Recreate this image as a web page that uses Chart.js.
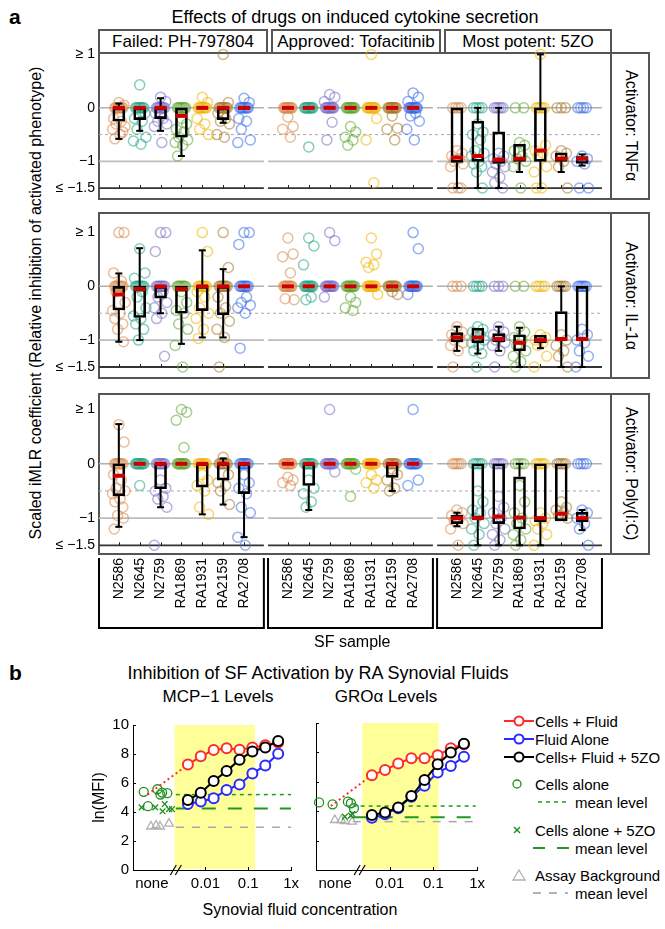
<!DOCTYPE html>
<html><head><meta charset="utf-8">
<script src="https://cdn.jsdelivr.net/npm/chart.js@4.4.1/dist/chart.umd.min.js"></script>
<style>
body{margin:0;background:#fff;font-family:"Liberation Sans",Arial,Helvetica,sans-serif;color:#000;}
#root{position:relative;width:665px;height:929px;overflow:hidden;background:#fff;}
.abs{position:absolute;}
.ctr{position:absolute;transform:translate(-50%,-50%);white-space:nowrap;}
.frame{position:absolute;box-sizing:border-box;border:2px solid #555;}
.hdr{position:absolute;box-sizing:border-box;border:2px solid #555;border-bottom:none;height:23px;top:29px;display:flex;align-items:center;justify-content:center;font-size:17px;line-height:20px;white-space:nowrap;}
.strip{position:absolute;left:612px;width:37px;display:flex;align-items:center;justify-content:center;writing-mode:vertical-rl;font-size:16px;white-space:nowrap;}
.sdiv{position:absolute;left:610px;width:2px;background:#555;}
canvas{position:absolute;display:block;}
.lg{position:absolute;font-size:15px;white-space:nowrap;transform:translateY(-50%);}
svg{position:absolute;overflow:visible;}
</style></head><body><div id="root">

<div class="abs" style="left:9px;top:5px;font-size:21px;font-weight:bold;">a</div>
<div class="ctr" style="left:355px;top:17px;font-size:18px;">Effects of drugs on induced cytokine secretion</div>
<div id="hdrs"></div>
<div id="frames"></div>
<div class="ctr" style="left:36px;top:303px;font-size:16px;transform:translate(-50%,-50%) rotate(-90deg);">Scaled iMLR coefficient (Relative inhibition of activated phenotype)</div>

<canvas id="p1" width="612" height="167" style="left:0;top:42px;"></canvas>
<canvas id="p2" width="612" height="185" style="left:0;top:203px;"></canvas>
<canvas id="p3" width="612" height="268" style="left:0;top:384px;"></canvas>

<div class="abs" style="left:9px;top:661px;font-size:21px;font-weight:bold;">b</div>
<div class="ctr" style="left:318px;top:673px;font-size:18px;">Inhibition of SF Activation by RA Synovial Fluids</div>
<div class="ctr" style="left:218px;top:697px;font-size:17px;">MCP−1 Levels</div>
<div class="ctr" style="left:386px;top:697px;font-size:17px;">GROα Levels</div>
<canvas id="bl" width="216" height="186" style="left:88px;top:712px;"></canvas>
<canvas id="br" width="184" height="186" style="left:306px;top:712px;"></canvas>
<div class="ctr" style="left:300px;top:910px;font-size:16px;">Synovial fluid concentration</div>

<svg style="left:503px;top:713px" width="32" height="16"><line x1="1" y1="8" x2="31" y2="8" stroke="#ff2a2a" stroke-width="2"/><circle cx="16" cy="8" r="4.5" fill="#fff" stroke="#ff2a2a" stroke-width="2"/></svg>
<div class="lg" style="left:535px;top:721px;">Cells + Fluid</div>
<svg style="left:503px;top:731px" width="32" height="16"><line x1="1" y1="8" x2="31" y2="8" stroke="#2a2aff" stroke-width="2"/><circle cx="16" cy="8" r="4.5" fill="#fff" stroke="#2a2aff" stroke-width="2"/></svg>
<div class="lg" style="left:535px;top:739px;">Fluid Alone</div>
<svg style="left:503px;top:749px" width="32" height="16"><line x1="1" y1="8" x2="31" y2="8" stroke="#000" stroke-width="2"/><circle cx="16" cy="8" r="4.5" fill="#fff" stroke="#000" stroke-width="2"/></svg>
<div class="lg" style="left:535px;top:757px;">Cells+ Fluid + 5ZO</div>
<svg style="left:510px;top:777px" width="14" height="14"><circle cx="7" cy="7" r="4" fill="none" stroke="#1f8f1f" stroke-width="1.3"/></svg>
<div class="lg" style="left:535px;top:784px;">Cells alone</div>
<svg style="left:537px;top:798px" width="34" height="8"><line x1="1" y1="4" x2="33" y2="4" stroke="#1f9a1f" stroke-width="1.5" stroke-dasharray="4,4"/></svg>
<div class="lg" style="left:575px;top:802px;">mean level</div>
<svg style="left:511px;top:824px" width="12" height="12"><line x1="3" y1="3" x2="9" y2="9" stroke="#1f8f1f" stroke-width="1.5"/><line x1="9" y1="3" x2="3" y2="9" stroke="#1f8f1f" stroke-width="1.5"/></svg>
<div class="lg" style="left:535px;top:830px;">Cells alone + 5ZO</div>
<svg style="left:532px;top:844px" width="40" height="8"><line x1="1" y1="4" x2="13" y2="4" stroke="#1f9a1f" stroke-width="2"/><line x1="25" y1="4" x2="37" y2="4" stroke="#1f9a1f" stroke-width="2"/></svg>
<div class="lg" style="left:575px;top:848px;">mean level</div>
<svg style="left:512px;top:869px" width="14" height="12"><polygon points="7,1 13,11 1,11" fill="none" stroke="#b0b0b0" stroke-width="1.3"/></svg>
<div class="lg" style="left:535px;top:875px;">Assay Background</div>
<svg style="left:532px;top:889px" width="40" height="8"><line x1="1" y1="4" x2="9" y2="4" stroke="#999" stroke-width="1.5"/><line x1="17" y1="4" x2="25" y2="4" stroke="#999" stroke-width="1.5"/><line x1="33" y1="4" x2="36" y2="4" stroke="#999" stroke-width="1.5"/></svg>
<div class="lg" style="left:575px;top:893px;">mean level</div>
</div>
<script>
// ---------------- Panel a data ----------------
const SAMPLES = ['N2586','N2645','N2759','RA1869','RA1931','RA2159','RA2708'];
const DRUGS = ['Failed: PH-797804','Approved: Tofacitinib','Most potent: 5ZO'];
const ACTIVATORS = ['Activator: TNFα','Activator: IL-1α','Activator: Poly(I:C)'];
const SAMPLE_COLORS = ['#d9884a','#25a585','#7a70c8','#5fa832','#f0b400','#a8782a','#3a6ee8'];
const Y_TICKS_A = [1, 0, -1, -1.5];
const Y_TICK_LABELS_A = ['≥ 1','0','−1','≤ −1.5'];

// index = drug*7 + sample ; number of observations at exactly 0
const TNF_ZEROS = [8,8,8,8,8,8,8, 10,10,10,10,10,10,10, 4,4,5,2,5,3,4];
const TNF_VALUES = [
 [0.1,0.05,-0.2,-0.25,-0.3,-0.35,-0.4,-0.5,-0.58,-0.45],
 [0.43,-0.1,-0.2,-0.25,-0.4,-0.55,-0.62,-0.68],
 [0.2,0.12,-0.1,-0.2,-0.25,-0.3,-0.35,-0.65],
 [-0.2,-0.3,-0.4,-0.45,-0.55,-0.6,-0.65,-0.7,-0.9],
 [0.2,0.1,-0.2,-0.3,-0.4,-0.5],
 [1.0,0.1,-0.1,-0.2,-0.25,-0.3,-0.5,-0.55],
 [0.18,0.1,-0.2,-0.25,-0.4,-0.6,-0.65],
 [-0.17,-0.35,-0.4,-0.55],
 [-0.73],
 [0.25,0.2,0.12,-0.27,-0.6],
 [-0.35,-0.45,-0.55,-0.6,-0.7],
 [1.0,-0.2,-0.6,-1.4],
 [-0.15,-0.38,-0.4,-0.6],
 [0.28,0.2,0.12,-0.1,-0.15,-0.25,-0.4,-0.6],
 [-0.8,-0.85,-0.9,-0.95,-1.0,-1.05,-1.1,-1.5,-1.5,-1.5],
 [-0.3,-0.45,-0.5,-0.6,-0.8,-0.85,-0.9,-1.0,-1.05,-1.1,-1.2,-1.5],
 [-0.85,-0.9,-0.95,-1.0,-1.05,-1.1,-1.2,-1.3,-1.4,-1.5],
 [-0.65,-0.7,-0.8,-0.9,-0.95,-1.0,-1.1,-1.5],
 [1.0,-0.7,-0.8,-0.85,-0.9,-1.1,-1.2,-1.5,-1.5],
 [-0.8,-0.85,-0.9,-1.0,-1.1,-1.5],
 [-0.9,-0.95,-1.0,-1.05,-1.5,-1.5]
];
// [whisker low, q1, median, q3, whisker high]
const TNF_BOXES = [
 [-0.58,-0.25,0,0,0.08],[-0.43,-0.22,0,0,0],[-0.43,-0.2,0,0,0.18],[-0.9,-0.55,-0.15,0,0],[0,0,0,0,0],[-0.28,-0.22,0,0,0],[-0.03,-0.03,0,0,0],
 [0,0,0,0,0],[0,0,0,0,0],[0,0,0,0,0],[0,0,0,0,0],[0,0,0,0,0],[0,0,0,0,0],[0,0,0,0,0],
 [-1.5,-1.02,-0.93,0,0],[-1.5,-1.0,-0.9,-0.25,0],[-1.5,-1.04,-0.97,-0.45,0],[-1.2,-1.0,-0.95,-0.68,-0.68],[-1.5,-1.0,-0.8,0,1.0],[-1.2,-1.0,-0.95,-0.84,-0.84],[-1.08,-1.04,-0.95,-0.91,-0.87]
];

const IL1_ZEROS = [8,8,8,8,8,8,8, 10,10,10,10,10,10,10, 3,4,3,2,4,5,6];
const IL1_VALUES = [
 [1.0,1.0,0.25,0.1,-0.1,-0.3,-0.45,-0.5,-0.6,-0.7,-0.8,-1.03],
 [0.7,0.25,0.15,-0.1,-0.2,-0.4,-0.55,-0.6,-0.7,-0.8,-1.0],
 [1.0,1.0,0.65,-0.1,-0.2,-0.3,-0.4,-0.5,-0.6,-1.3],
 [-0.1,-0.3,-0.45,-0.5,-0.7,-0.8,-1.1,-1.5],
 [1.0,0.65,-0.1,-0.2,-0.4,-0.5,-0.6,-0.8,-0.97],
 [1.0,0.35,-0.2,-0.4,-0.5,-0.65,-0.8,-0.95,-1.5],
 [1.0,1.0,0.78,-0.2,-0.3,-0.35,-0.4,-0.5,-1.15],
 [0.9,0.6,0.55,0.25,-0.23,-0.25],
 [0.9,0.75,0.4,-0.2,-0.25],
 [1.0,0.85,-0.2],
 [-0.2,-0.3,-0.4,-0.45],
 [0.9,0.6,0.45,0.4,0.35,-0.15],
 [-0.1,-0.15],
 [1.0,0.7,-0.15],
 [-0.75,-0.85,-0.9,-0.95,-1.0,-1.05,-1.1,-1.2,-1.5],
 [-0.75,-0.8,-0.85,-0.9,-0.95,-1.0,-1.05,-1.1,-1.2,-1.25,-1.5],
 [-0.75,-0.85,-0.9,-0.95,-1.0,-1.05,-1.1,-1.2,-1.5],
 [-0.75,-0.85,-0.95,-1.0,-1.1,-1.2,-1.3,-1.4,-1.5],
 [-0.9,-0.95,-1.0,-1.05,-1.1,-1.3,-1.5],
 [-0.9,-1.0,-1.1,-1.2,-1.3,-1.5],
 [-0.8,-0.9,-1.0,-1.05,-1.2,-1.3,-1.5]
];
const IL1_BOXES = [
 [-1.03,-0.44,-0.15,0,0.24],[-1.0,-0.58,-0.05,0,0.71],[-0.5,-0.22,0,0,0],[-1.07,-0.5,-0.05,0,0],[-0.95,-0.45,0,0,0.67],[-0.95,-0.53,0,0,0.32],[0,0,0,0,0],
 [0,0,0,0,0],[0,0,0,0,0],[0,0,0,0,0],[0,0,0,0,0],[0,0,0,0,0],[0,0,0,0,0],[0,0,0,0,0],
 [-1.2,-1.03,-0.95,-0.86,-0.75],[-1.25,-1.05,-0.95,-0.78,-0.78],[-1.2,-1.03,-0.98,-0.88,-0.75],[-1.5,-1.2,-1.05,-0.9,-0.77],[-1.15,-1.05,-1.0,-0.91,-0.91],[-1.5,-1.0,-0.98,-0.47,0],[-1.5,-1.0,-0.98,0,0]
];

const POLY_ZEROS = [8,10,8,10,8,8,8, 10,8,10,10,10,8,10, 5,5,5,4,5,5,4];
const POLY_VALUES = [
 [0.72,0.4,-0.2,-0.3,-0.45,-0.5,-0.55,-0.65,-0.7,-0.8,-0.95,-1.0,-1.2],
 [-0.4],
 [-0.3,-0.45,-0.5,-0.6,-0.65,-0.8,-1.5],
 [1.0,0.95,0.8,0.3],
 [-0.2,-0.3,-0.4,-0.5,-0.8,-0.93],
 [0.12,-0.2,-0.35,-0.4,-0.5,-0.75],
 [-0.2,-0.35,-0.45,-0.55,-0.8,-0.9,-1.35,-1.5],
 [-0.25,-0.3,-0.35,-0.4],
 [-0.3,-0.45,-0.55,-0.7,-0.8],
 [1.0,-0.15],
 [-0.6,-0.1],
 [-0.2,-0.3,-0.35,-0.45],
 [-0.1,-0.2,-0.3,-0.45,-0.5],
 [1.0,-0.3,-0.4],
 [-0.85,-0.9,-0.95,-1.0,-1.05,-1.1,-1.2,-1.5],
 [-0.5,-0.7,-0.85,-0.9,-1.0,-1.1,-1.2,-1.3,-1.5],
 [-0.6,-0.8,-0.9,-1.0,-1.1,-1.2,-1.3,-1.4,-1.5],
 [-0.4,-0.7,-0.9,-1.0,-1.1,-1.2,-1.3,-1.4,-1.5],
 [-0.9,-1.0,-1.05,-1.1,-1.2,-1.3,-1.5],
 [-0.7,-0.8,-0.85,-0.9,-0.95,-1.0],
 [-0.85,-0.9,-1.0,-1.1,-1.2,-1.5]
];
const POLY_BOXES = [
 [-1.16,-0.59,-0.22,0,0.73],[0,0,0,0,0],[-0.8,-0.46,0,0,0],[0,0,0,0,0],[-0.93,-0.43,0,0,0],[-0.75,-0.3,0,0,0.1],[-1.35,-0.55,0,0,0],
 [0,0,0,0,0],[-0.85,-0.4,0,0,0],[0,0,0,0,0],[0,0,0,0,0],[0,0,0,0,0],[-0.5,-0.25,0,0,0],[0,0,0,0,0],
 [-1.15,-1.1,-1.0,-0.95,-0.9],[-1.5,-1.0,-1.0,0,0],[-1.5,-1.1,-0.97,0,0],[-1.5,-1.2,-0.99,-0.24,0],[-1.5,-1.07,-1.0,0,0],[-1.05,-1.05,-0.92,0,0],[-1.22,-1.07,-1.0,-0.89,-0.85]
];

// ---------------- Panel b data ----------------
const SF_CONC = [0.0039, 0.0078, 0.0156, 0.03125, 0.0625, 0.125, 0.25, 0.5];
const B_X_TICK_CONC = [null, 0.01, 0.1, 1];
const B_X_TICK_LABELS = ['none','0.01','0.1','1x'];
const B_Y_TICKS = [0,2,4,6,8,10];

const MCP_CELLS_FLUID = [7.27, 7.84, 8.27, 8.39, 8.3, 8.45, 8.6, 8.8];
const MCP_FLUID_ALONE = [4.55, 4.73, 4.95, 5.52, 5.9, 6.66, 7.2, 8.02];
const MCP_CELLS_FLUID_5ZO = [4.82, 5.32, 6.14, 6.82, 7.61, 8.18, 8.45, 8.9];
const MCP_CELLS_ALONE = [5.39, 5.57, 5.34, 5.2, 5.3, 4.4];
const MCP_CELLS_5ZO = [4.32, 4.32, 4.05, 4.55, 4.2, 4.2];
const MCP_BACKGROUND = [3.0, 3.07, 3.0, 3.2];
const MCP_MEANS = [5.2, 4.25, 2.95];

const GRO_CELLS_FLUID = [6.45, 6.8, 7.25, 7.6, 7.6, 7.8, 8.28, 8.55];
const GRO_FLUID_ALONE = [3.56, 3.8, 4.2, 4.99, 5.73, 6.64, 7.07, 7.71];
const GRO_CELLS_FLUID_5ZO = [3.74, 3.92, 4.26, 5.03, 6.12, 7.2, 8.0, 8.59];
const GRO_CELLS_ALONE = [4.6, 4.47, 4.65, 4.54, 4.2];
const GRO_CELLS_5ZO = [3.63, 3.7, 3.81];
const GRO_BACKGROUND = [3.4, 3.4, 3.33, 3.29];
const GRO_MEANS = [4.35, 3.58, 3.29];

// ---------------- layout constants ----------------
const GROUP_STEP = 8.1;
const JITTER = [0, 0.25, -0.25, 0.12, -0.13, 0.3, -0.3, 0.06, -0.19, 0.19, -0.06, 0.22, -0.22];
const PANELS = [
  {id:'p1', top:52.5, bottom:199, ymin:-1.66, ymax:1.0, zeros:TNF_ZEROS, values:TNF_VALUES, boxes:TNF_BOXES, pad:{top:10.5,bottom:10}},
  {id:'p2', top:213, bottom:378, ymin:-1.66, ymax:1.32, zeros:IL1_ZEROS, values:IL1_VALUES, boxes:IL1_BOXES, pad:{top:10,bottom:10}},
  {id:'p3', top:394, bottom:554, ymin:-1.66, ymax:1.24, zeros:POLY_ZEROS, values:POLY_VALUES, boxes:POLY_BOXES, pad:{top:10,bottom:0}, axis:true}
];
const BRACKET_TOP = 558, BRACKET_BOTTOM = 628;
const B_NONE_X = -3.25, B_LINK_X = -3.35, B_BREAK_X = -2.69;
const MCP_JX = {alone:[-3.44,-3.12,-3.01,-3.05,-2.89,-3.34], z:[-3.49,-3.17,-3.0,-2.95,-2.85,-2.78], bg:[-3.27,-3.15,-3.06,-2.85]};
const GRO_JX = {alone:[-3.62,-3.31,-2.96,-2.89,-2.82], z:[-3.03,-2.89,-2.86], bg:[-3.26,-3.11,-3.03,-2.86]};

Chart.defaults.font.family = '"Liberation Sans", Arial, Helvetica, sans-serif';
Chart.defaults.color = '#000';
Chart.defaults.animation = false;

function catPos(idx){ return Math.floor(idx/7)*GROUP_STEP + (idx%7); }
function rgba(hex, a){ const n=parseInt(hex.slice(1),16); return `rgba(${n>>16},${(n>>8)&255},${n&255},${a})`; }

// header boxes & frames
const hdrs = document.getElementById('hdrs');
const HDR_X = [[99,267],[272,440],[445,611]];
DRUGS.forEach((d,i)=>{ const e=document.createElement('div'); e.className='hdr'; e.style.left=(HDR_X[i][0]-1)+'px'; e.style.width=(HDR_X[i][1]-HDR_X[i][0]+2)+'px'; e.textContent=d; hdrs.appendChild(e); });
const frames = document.getElementById('frames');
PANELS.forEach((p,i)=>{
  const f=document.createElement('div'); f.className='frame';
  f.style.left='98px'; f.style.top=(p.top-1)+'px'; f.style.width='552px'; f.style.height=(p.bottom-p.top+2)+'px'; frames.appendChild(f);
  const s=document.createElement('div'); s.className='sdiv'; s.style.top=p.top+'px'; s.style.height=(p.bottom-p.top)+'px'; frames.appendChild(s);
  const t=document.createElement('div'); t.className='strip'; t.style.top=p.top+'px'; t.style.height=(p.bottom-p.top)+'px'; t.textContent=ACTIVATORS[i]; frames.appendChild(t);
});

function refLine(level, color, width, dash, continuous){
  const data=[];
  if(continuous){ data.push({x:-0.95,y:level},{x:2*GROUP_STEP+6.95,y:level}); }
  else for(let g=0;g<3;g++){ const a=g*GROUP_STEP; data.push({x:a-0.95,y:level},{x:a+6.95,y:level},{x:a+7.05,y:null}); }
  return {type:'line', data, borderColor:color, borderWidth:width, borderDash:dash, pointRadius:0, spanGaps:false, fill:false, tension:0, order:20};
}

function boxPlugin(p){
  return {
    id:'boxdeco',
    afterDatasetsDraw(chart){
      const {ctx, scales:{x,y}} = chart;
      ctx.save();
      ctx.strokeStyle='#222'; ctx.lineWidth=1;
      for(let i=0;i<21;i++){ const px=Math.round(x.getPixelForValue(catPos(i)))+0.5; const py=y.getPixelForValue(-1.5); ctx.beginPath(); ctx.moveTo(px,py); ctx.lineTo(px,py-3); ctx.stroke(); }
      ctx.strokeStyle='#000'; ctx.lineWidth=2;
      p.boxes.forEach((b,i)=>{
        const px=x.getPixelForValue(catPos(i));
        const [lo,q1,med,q3,hi]=b;
        const seg=(v0,v1)=>{ ctx.beginPath(); ctx.moveTo(px,y.getPixelForValue(v0)); ctx.lineTo(px,y.getPixelForValue(v1)); ctx.stroke();
          ctx.beginPath(); ctx.moveTo(px-3.5,y.getPixelForValue(v1)); ctx.lineTo(px+3.5,y.getPixelForValue(v1)); ctx.stroke(); };
        if(hi>q3) seg(q3,hi);
        if(lo<q1) seg(q1,lo);
      });
      ctx.fillStyle='#cc0000';
      p.boxes.forEach((b,i)=>{ const px=x.getPixelForValue(catPos(i)); const py=y.getPixelForValue(b[2]); ctx.fillRect(px-6,py-2,12,4); });
      ctx.restore();
    },
    afterDraw(chart){
      if(!p.axis) return;
      const {ctx, scales:{x}} = chart;
      const top=BRACKET_TOP-chart.canvas.offsetTop, bot=BRACKET_BOTTOM-chart.canvas.offsetTop;
      ctx.save(); ctx.strokeStyle='#000'; ctx.lineWidth=2;
      for(let g=0;g<3;g++){
        const a=x.getPixelForValue(g*GROUP_STEP-0.95), b=x.getPixelForValue(g*GROUP_STEP+6.95);
        ctx.beginPath(); ctx.moveTo(a,top); ctx.lineTo(a,bot); ctx.lineTo(b,bot); ctx.lineTo(b,top); ctx.stroke();
      }
      ctx.restore();
    }
  };
}

PANELS.forEach(p=>{
  const ds=[];
  ds.push(refLine(0,'#b0b0b0',1.5,[],false));
  ds.push(refLine(-0.5,'#aaaaaa',1,[3,3],true));
  ds.push(refLine(-1,'#bdbdbd',1.8,[],false));
  ds.push(refLine(-1.5,'#333333',1.8,[],false));
  SAMPLES.forEach((s,si)=>{
    const pts=[];
    for(let g=0;g<3;g++){
      const idx=g*7+si, base=catPos(idx), n=p.zeros[idx];
      for(let k=0;k<n;k++) pts.push({x:base+(n>1?-0.2+0.4*k/(n-1):0), y:0});
      p.values[idx].forEach((v,k)=>pts.push({x:base+JITTER[k%JITTER.length], y:v}));
    }
    ds.push({type:'scatter', label:s, data:pts, pointRadius:5, pointBorderWidth:1.5, pointBackgroundColor:'rgba(0,0,0,0)', pointBorderColor:rgba(SAMPLE_COLORS[si],0.55), showLine:false, clip:false, order:5});
  });
  ds.push({type:'bar', data:p.boxes.map((b,i)=>b[1]!==b[3]?{x:catPos(i),y:[b[1],b[3]]}:null).filter(Boolean),
    backgroundColor:'rgba(0,0,0,0)', borderColor:'#000', borderWidth:2, borderSkipped:false, barThickness:12, grouped:false, order:1});
  const xs = {type:'linear', min:-0.95, max:23.32, offset:false, display:!!p.axis,
    grid:{display:false, drawTicks:false, offset:false}, border:{display:false}};
  if(p.axis){
    xs.afterBuildTicks = s=>{ s.ticks = Array.from({length:21},(_,i)=>({value:catPos(i)})); };
    xs.ticks = {autoSkip:false, minRotation:90, maxRotation:90, padding:4, font:{size:14}, color:'#000', callback:(v,i)=>SAMPLES[i%7]};
    xs.afterFit = s=>{ s.height=98; };
    xs.title = {display:true, text:'SF sample', font:{size:16}, color:'#000', padding:{top:0,bottom:0}};
  }
  new Chart(document.getElementById(p.id), {
    type:'scatter',
    data:{datasets:ds},
    options:{responsive:false, animation:false, devicePixelRatio:1,
      layout:{padding:{top:p.pad.top, bottom:p.pad.bottom, left:0, right:1}},
      plugins:{legend:{display:false}, tooltip:{enabled:false}},
      scales:{
        x: xs,
        y:{type:'linear', min:p.ymin, max:p.ymax,
          afterBuildTicks:s=>{ s.ticks = Y_TICKS_A.map(v=>({value:v})); },
          ticks:{font:{size:14}, color:'#000', padding:4, callback:(v,i)=>Y_TICK_LABELS_A[i]},
          grid:{display:false, drawTicks:false}, border:{display:false},
          afterFit:s=>{ s.width=99; }}
      }},
    plugins:[boxPlugin(p)]
  });
});

// ---------------- Panel b charts ----------------
function bChart(id, d, withYLabels){
  const L = v=>Math.log10(v);
  const series=(vals,color,order)=>({type:'line', data:SF_CONC.map((c,i)=>({x:L(c),y:vals[i]})), borderColor:color, borderWidth:2,
      pointRadius:5, pointBorderWidth:2, pointBackgroundColor:'#fff', pointBorderColor:color, tension:0, clip:false, order});
  const pts=(vals,xs,style,color,r,order)=>({type:'scatter', data:vals.map((v,i)=>({x:xs[i],y:v})), pointStyle:style, pointRadius:r,
      pointBorderWidth:1.3, pointBorderColor:color, pointBackgroundColor:'rgba(0,0,0,0)', showLine:false, clip:false, order});
  const mean=(v,color,dash,w)=>({type:'line', data:[{x:d.meanStart,y:v},{x:d.meanEnd,y:v}], borderColor:color, borderDash:dash, borderWidth:w, pointRadius:0, order:9});
  const ds=[
    series(d.z5, '#000000', 1),
    series(d.cf, '#ff2a2a', 2),
    series(d.fa, '#2a2aff', 3),
    {type:'line', data:[{x:B_LINK_X,y:d.means[0]},{x:L(SF_CONC[0]),y:d.cf[0]}], borderColor:'#ff2a2a', borderWidth:2, borderDash:[2,3], pointRadius:0, order:4},
    pts(d.alone, d.jx.alone, 'circle', '#1f8f1f', 4.5, 6),
    pts(d.cz, d.jx.z, 'crossRot', '#1f8f1f', 4, 6),
    pts(d.bg, d.jx.bg, 'triangle', '#b0b0b0', 5, 7),
    mean(d.means[0], '#1f9a1f', [4,4], 1.5),
    mean(d.means[1], '#1f9a1f', [14,12], 2),
    mean(d.means[2], '#a8a8a8', [8,8], 1.5)
  ];
  const xTickVals = B_X_TICK_CONC.map(c=>c===null?B_NONE_X:L(c));
  const plugin={id:'bdeco',
    beforeDraw(chart){ const {ctx,scales:{x,y}}=chart; const a=x.getPixelForValue(d.band[0]), b=x.getPixelForValue(d.band[1]);
      const t=y.getPixelForValue(10), bt=y.getPixelForValue(0); ctx.save(); ctx.fillStyle='#ffff9a'; ctx.fillRect(a,t,b-a,bt-t-1); ctx.restore(); },
    afterDraw(chart){ const {ctx,scales:{x,y},chartArea:ca}=chart; ctx.save(); ctx.strokeStyle='#000'; ctx.lineWidth=1;
      B_Y_TICKS.forEach(v=>{ const py=Math.round(y.getPixelForValue(v))+0.5; ctx.beginPath(); ctx.moveTo(ca.left,py); ctx.lineTo(ca.left+3,py); ctx.stroke(); });
      xTickVals.slice(1).forEach(v=>{ const px=Math.round(x.getPixelForValue(v))+0.5; ctx.beginPath(); ctx.moveTo(px,ca.bottom); ctx.lineTo(px,ca.bottom-3); ctx.stroke(); });
      const bx=x.getPixelForValue(B_BREAK_X), by=ca.bottom;
      ctx.lineWidth=1.2; [-2.5,2.5].forEach(o=>{ ctx.beginPath(); ctx.moveTo(bx+o-3,by+5); ctx.lineTo(bx+o+3,by-5); ctx.stroke(); });
      ctx.restore(); }
  };
  new Chart(document.getElementById(id), {
    type:'scatter', data:{datasets:ds},
    options:{responsive:false, animation:false, devicePixelRatio:1,
      layout:{padding:{top:11, right:withYLabels?10:12, left:0, bottom:0}},
      plugins:{legend:{display:false}, tooltip:{enabled:false}},
      scales:{
        x:{type:'linear', min:-3.69, max:0,
          afterBuildTicks:s=>{ s.ticks = xTickVals.map(v=>({value:v})); },
          ticks:{autoSkip:false, maxRotation:0, font:{size:15}, color:'#000', padding:5, callback:(v,i)=>B_X_TICK_LABELS[i]},
          grid:{display:false, drawTicks:false}, border:{display:true, color:'#000', width:1},
          afterFit:s=>{ s.height=28; }},
        y:{type:'linear', min:0, max:10,
          afterBuildTicks:s=>{ s.ticks = B_Y_TICKS.map(v=>({value:v})); },
          ticks:{display:withYLabels, font:{size:15}, color:'#000', padding:4},
          title:{display:withYLabels, text:'ln(MFI)', font:{size:16}, color:'#000', padding:{top:2,bottom:0}},
          grid:{display:false, drawTicks:false}, border:{display:true, color:'#000', width:1},
          afterFit:s=>{ s.width = withYLabels?45:10; }}
      }},
    plugins:[plugin]
  });
}
bChart('bl', {cf:MCP_CELLS_FLUID, fa:MCP_FLUID_ALONE, z5:MCP_CELLS_FLUID_5ZO, alone:MCP_CELLS_ALONE, cz:MCP_CELLS_5ZO, bg:MCP_BACKGROUND,
  means:MCP_MEANS, jx:MCP_JX, band:[-2.72,-0.84], meanStart:-2.69, meanEnd:0}, true);
bChart('br', {cf:GRO_CELLS_FLUID, fa:GRO_FLUID_ALONE, z5:GRO_CELLS_FLUID_5ZO, alone:GRO_CELLS_ALONE, cz:GRO_CELLS_5ZO, bg:GRO_BACKGROUND,
  means:GRO_MEANS, jx:GRO_JX, band:[-2.63,-0.88], meanStart:-2.85, meanEnd:-0.03}, false);
</script>
</body></html>
